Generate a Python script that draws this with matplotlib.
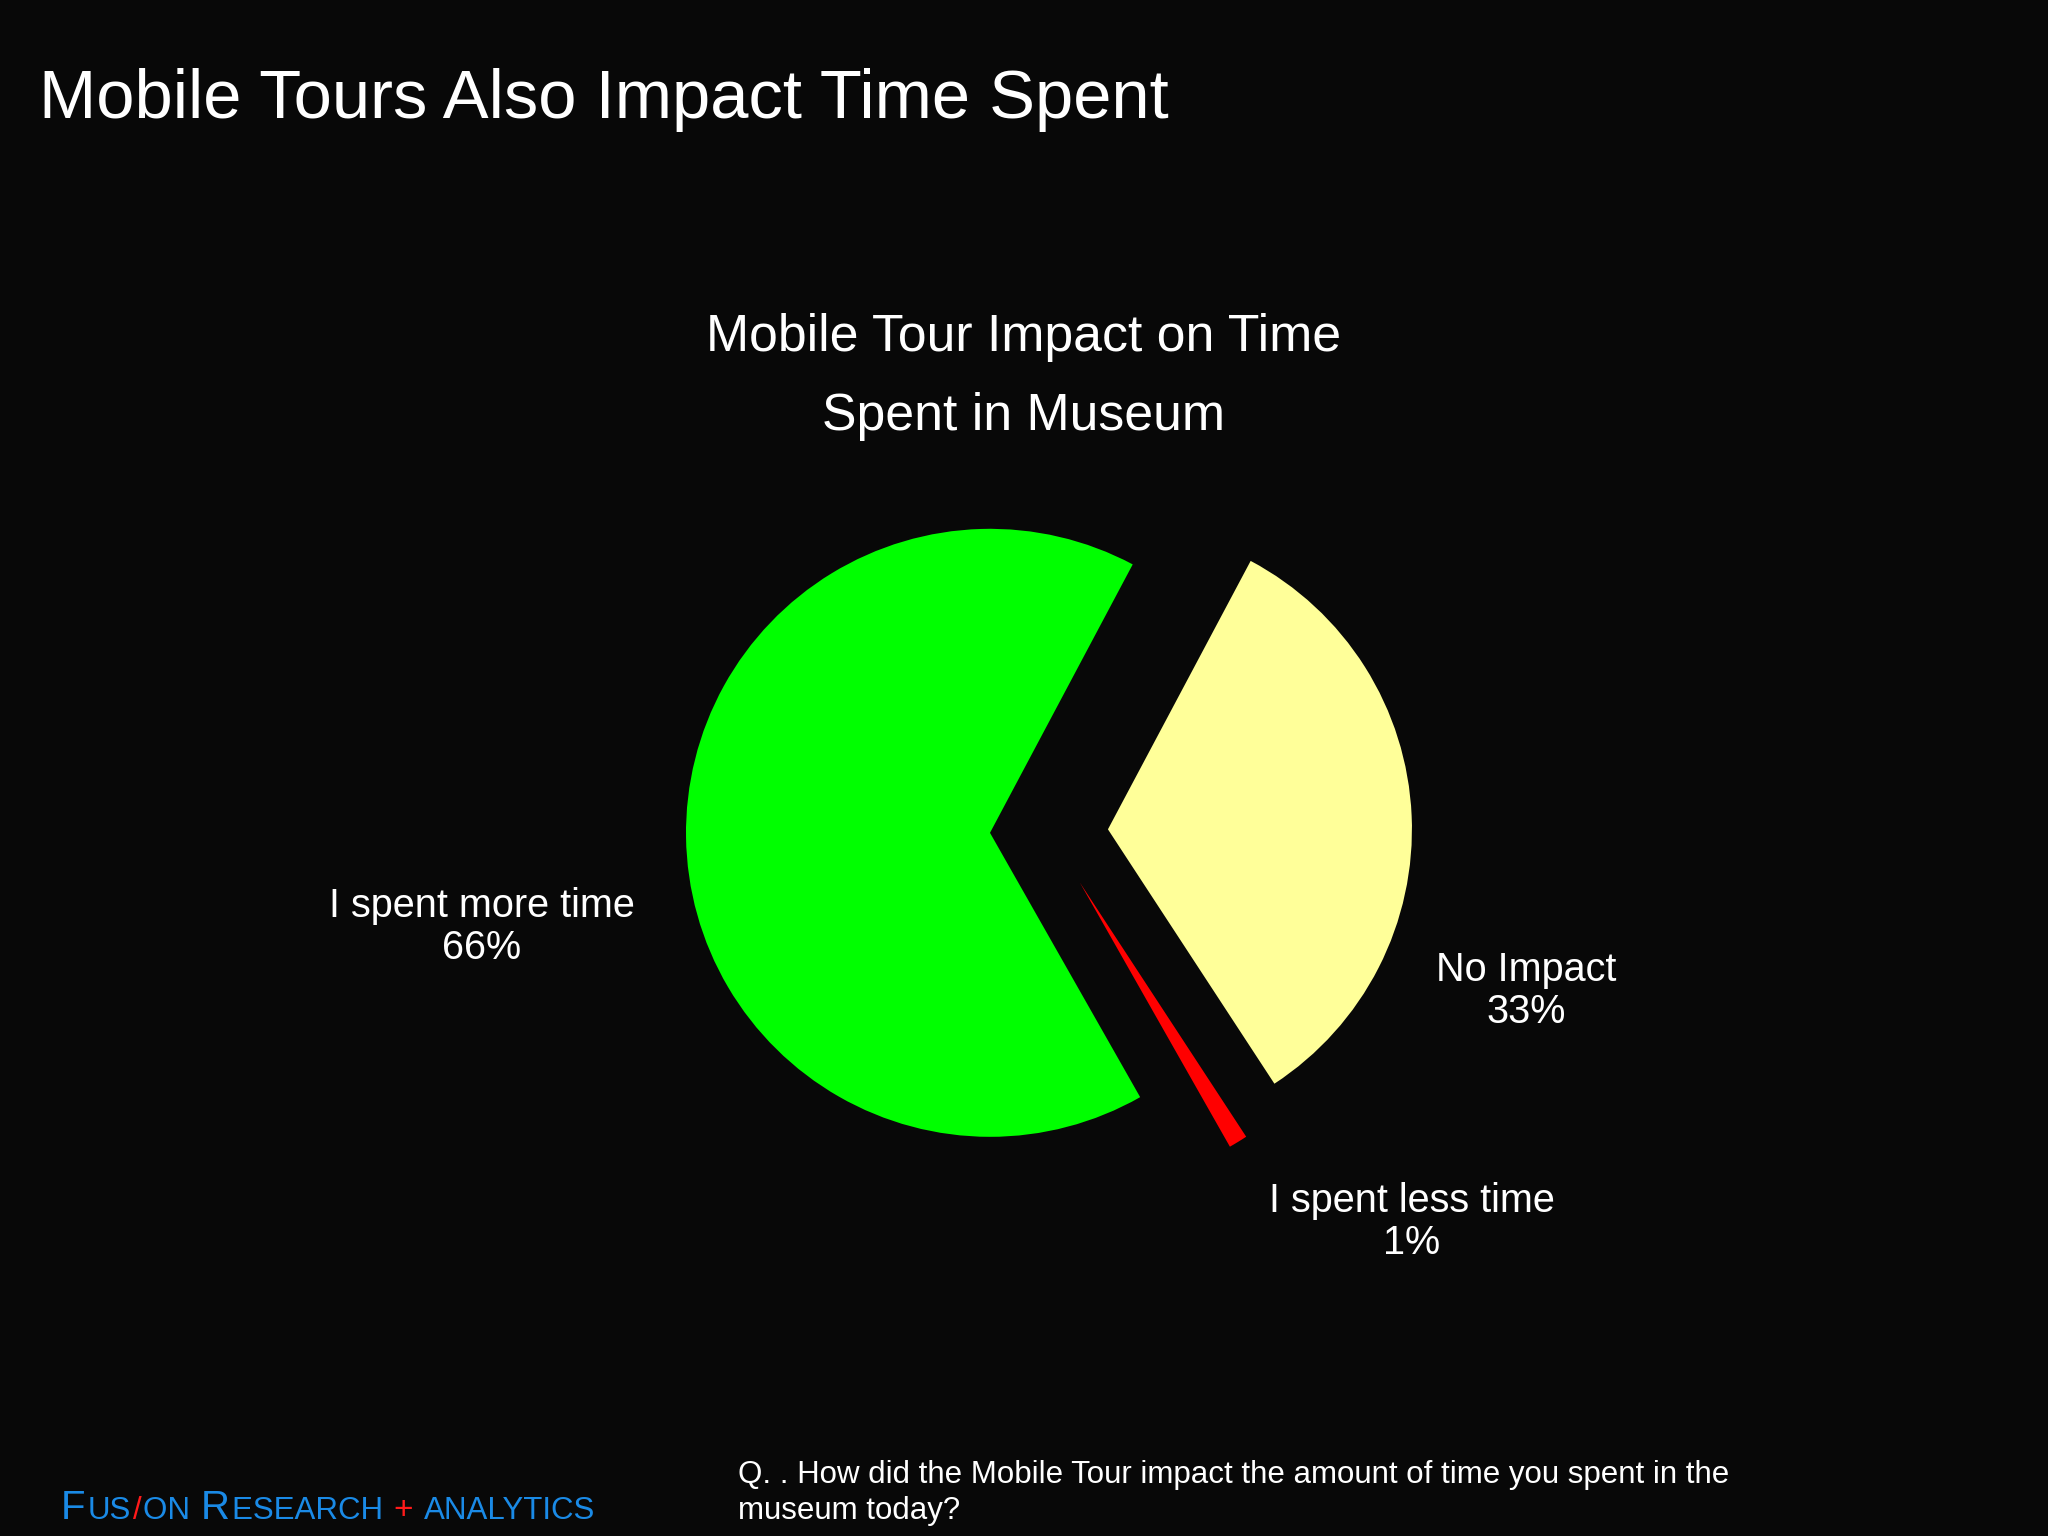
import matplotlib
matplotlib.use("Agg")
import matplotlib.pyplot as plt

# chart data
labels = ["I spent more time", "No Impact", "I spent less time"]
shares = [66, 33, 1]
colors = ["#00ff00", "#ffff99", "#ff0000"]

title = "Mobile Tours Also Impact Time Spent"
chart_title = "Mobile Tour Impact on Time\nSpent in Museum"
question = ("Q. . How did the Mobile Tour impact the amount of time you spent in the\n"
            "museum today?")

bg = "#080808"
plt.rcParams["font.family"] = ["Liberation Sans", "DejaVu Sans"]

fig = plt.figure(figsize=(20.48, 15.36), dpi=100, facecolor=bg)
ax = fig.add_axes([0, 0, 1, 1])
ax.set_facecolor(bg)

# explode is in data units here (axes spans the figure in pixels)
wedges, _ = ax.pie(shares, colors=colors, explode=[59] * 3, startangle=-60.4,
                   counterclock=False, center=(1049, 704), radius=304,
                   wedgeprops=dict(linewidth=0))
# pie resets the limits, so set them afterwards
ax.set_xlim(0, 2048)
ax.set_ylim(0, 1536)
ax.set_aspect("equal")
ax.axis("off")

# slice labels
label_pos = [(482, 609), (1526, 545), (1412, 314)]
for lab, val, (x, y) in zip(labels, shares, label_pos):
    ax.text(x, y, f"{lab}\n{val}%", color="white", fontsize=28.5,
            ha="center", va="center", linespacing=1.12)

ax.text(1024, 1159, chart_title, color="white", fontsize=37.3,
        ha="center", va="center", linespacing=1.78)

fig.text(39 / 2048, 1 - 118 / 1536, title, color="white", fontsize=49.5,
         ha="left", va="baseline")

fig.text(738 / 2048, 1 - 1460 / 1536, question, color="white", fontsize=22.5,
         ha="left", va="top", linespacing=1.28)

# logo with small caps, built piece by piece
blue = "#1a8ae6"
red = "#ff1a1a"
pieces = [("F", 29, blue), ("US", 22.5, blue), ("/", 22.5, red), ("ON ", 22.5, blue),
          ("R", 29, blue), ("ESEARCH ", 22.5, blue), ("+ ", 24, red),
          ("ANALYTICS", 22.5, blue)]
fig.canvas.draw()
renderer = fig.canvas.get_renderer()
x = 61
for txt, size, col in pieces:
    t = fig.text(x / 2048, 17 / 1536, txt, color=col, fontsize=size,
                 ha="left", va="baseline")
    bb = t.get_window_extent(renderer=renderer)
    x = bb.x1 + 2

fig.savefig("out.png", dpi=100, facecolor=bg)
